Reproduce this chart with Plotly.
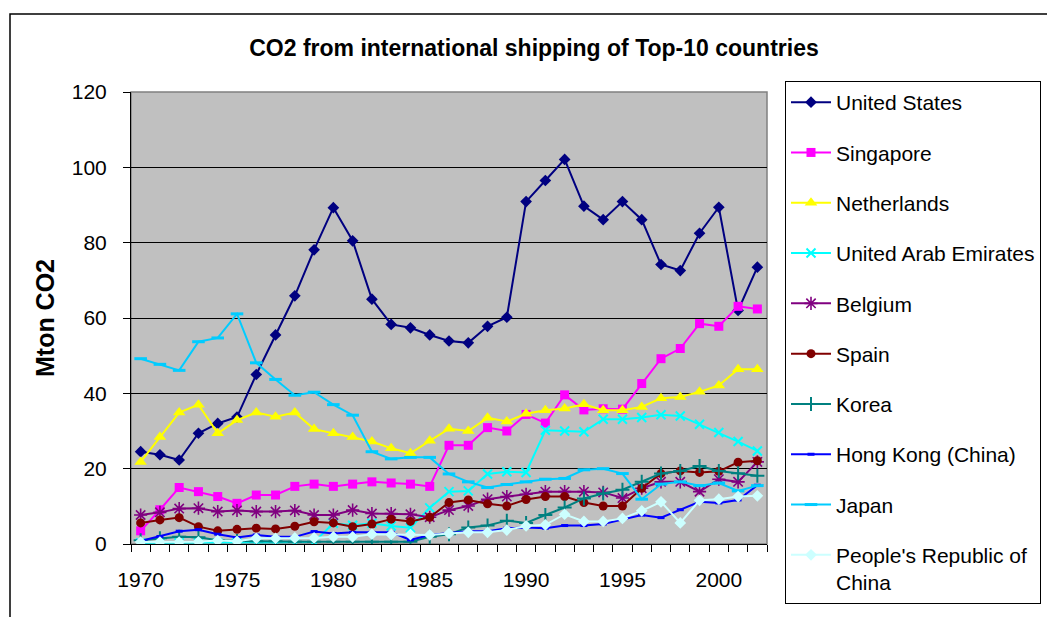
import plotly.graph_objects as go

years = list(range(1970, 2003))

united_states = [24.5, 23.7, 22.3, 29.4, 32.0, 33.7, 45.0, 55.5, 65.9, 78.1, 89.3,
                 80.5, 65.0, 58.3, 57.4, 55.5, 53.9, 53.4, 57.8, 60.2, 90.9,
                 96.5, 102.1, 89.7, 86.1, 90.9, 86.1, 74.2, 72.6, 82.5, 89.4, 62.0, 73.5]
singapore = [3.5, 9.1, 15.0, 13.9, 12.6, 10.8, 13.0, 13.0, 15.3, 15.9, 15.3,
             15.9, 16.5, 16.2, 15.9, 15.3, 26.2, 26.2, 30.9, 30.0, 34.4,
             32.1, 39.6, 35.6, 35.9, 35.8, 42.6, 49.2, 51.9, 58.5, 57.8, 63.1, 62.4]
netherlands = [21.8, 28.4, 34.9, 37.0, 29.4, 32.9, 34.9, 33.8, 34.9, 30.5, 29.4,
               28.4, 27.2, 25.4, 24.1, 27.4, 30.6, 30.0, 33.5, 32.5, 34.6,
               35.5, 36.0, 37.1, 35.5, 35.5, 36.4, 38.7, 39.0, 40.4, 42.1, 46.4, 46.4]
uae = [0.3, 0.3, 0.3, 0.3, 0.3, 0.3, 0.3, 0.3, 0.3, 0.5, 5.5,
       5.0, 5.5, 4.8, 4.3, 9.6, 13.9, 14.1, 18.6, 19.2, 19.0,
       30.2, 30.0, 29.8, 33.1, 33.1, 33.6, 34.3, 34.0, 31.8, 29.6, 27.2, 24.7]
belgium = [7.7, 8.4, 9.4, 9.5, 8.6, 8.9, 8.6, 8.6, 8.9, 7.7, 7.7,
           9.0, 8.1, 8.1, 7.9, 7.1, 9.0, 10.1, 11.9, 12.6, 13.2,
           13.9, 13.9, 13.9, 13.7, 12.2, 14.8, 16.5, 16.5, 13.9, 17.2, 16.5, 21.8]
spain = [5.6, 6.4, 7.0, 4.6, 3.5, 3.9, 4.2, 4.0, 4.7, 5.9, 5.6,
         4.6, 5.3, 6.6, 6.0, 7.1, 11.0, 11.7, 10.7, 10.1, 11.8,
         12.6, 12.6, 11.0, 10.1, 10.1, 14.8, 18.7, 19.4, 19.0, 19.3, 21.7, 22.1]
korea = [1.0, 1.5, 1.9, 1.8, 1.0, 0.8, 0.7, 0.7, 0.6, 0.6, 0.6,
         0.6, 0.6, 0.6, 0.6, 1.9, 2.6, 4.4, 4.9, 6.2, 5.6,
         7.7, 9.7, 12.1, 13.4, 14.4, 16.5, 18.7, 19.4, 20.7, 19.4, 18.8, 18.1]
hong_kong = [0.8, 2.0, 3.4, 3.8, 2.6, 1.7, 2.4, 1.9, 1.9, 3.3, 2.8,
             3.1, 3.1, 3.1, 1.1, 2.4, 2.9, 3.4, 3.4, 4.2, 4.4,
             4.2, 4.9, 4.9, 5.3, 6.6, 7.7, 7.0, 9.1, 11.2, 10.9, 11.7, 15.6]
japan = [49.2, 47.7, 46.1, 53.7, 54.7, 61.1, 48.1, 43.7, 39.5, 40.3, 37.0,
         34.2, 24.5, 22.6, 23.0, 23.0, 18.6, 16.5, 15.0, 15.8, 16.5,
         17.2, 17.4, 19.7, 20.0, 18.7, 11.9, 15.9, 16.5, 15.5, 16.2, 14.1, 15.5]
china = [0.5, 0.5, 0.5, 0.6, 0.9, 0.7, 1.5, 1.5, 1.6, 1.6, 1.9,
         1.9, 2.6, 2.5, 2.5, 2.4, 2.8, 3.1, 3.1, 3.7, 4.8,
         5.1, 7.9, 6.0, 6.0, 6.8, 8.8, 11.2, 5.6, 11.6, 11.9, 12.6, 12.8]

x_tick_years = [1970, 1975, 1980, 1985, 1990, 1995, 2000]

# name, values, colour, marker symbol, marker size, marker outline width
series = [
    ("United States", united_states, "#000080", "diamond", 9, 0),
    ("Singapore", singapore, "#FF00FF", "square", 9, 0),
    ("Netherlands", netherlands, "#FFFF00", "triangle-up", 11, 0),
    ("United Arab Emirates", uae, "#00FFFF", "x-thin-open", 9, 2),
    ("Belgium", belgium, "#800080", "asterisk-open", 11, 1.6),
    ("Spain", spain, "#800000", "circle", 9, 0),
    ("Korea", korea, "#008080", "cross-thin-open", 10, 2),
    ("Hong Kong (China)", hong_kong, "#0000FF", "line-ew-open", 5, 3),
    ("Japan", japan, "#00CCFF", "line-ew-open", 9, 3),
    ("People's Republic of<br>China", china, "#CCFFFF", "diamond", 9, 0),
]

fig = go.Figure()
for i, (name, vals, color, symbol, size, lw) in enumerate(series):
    fig.add_trace(go.Scatter(
        x=years, y=vals, name=name, mode="lines+markers",
        legendgroup=f"g{i}",
        line=dict(color=color, width=2),
        marker=dict(symbol=symbol, size=size, color=color,
                    line=dict(color=color, width=lw)),
    ))

L, R, T, B = 131, 280, 92, 73
W, H = 1047, 617
pw, ph = W - L - R, H - T - B

def px_x(p):
    return (p - L) / pw

def px_y(p):
    return (H - B - p) / ph

font_family = "Liberation Sans, Arial, sans-serif"

fig.update_layout(
    width=W, height=H,
    margin=dict(l=L, r=R, t=T, b=B, autoexpand=False),
    paper_bgcolor="white",
    plot_bgcolor="#C0C0C0",
    font=dict(family=font_family, color="black"),
    title=dict(
        text="<b>CO2 from international shipping of Top-10 countries</b>",
        font=dict(size=23, family=font_family, color="black"),
        x=534 / W, xanchor="center", xref="container",
        y=1 - 48 / H, yanchor="middle", yref="container",
    ),
    showlegend=True,
    legend=dict(
        x=px_x(785), y=1 - 81 / H, xanchor="left", yanchor="top",
        xref="paper", yref="container", maxheight=1,
        bgcolor="white", bordercolor="black", borderwidth=1,
        font=dict(size=21, family=font_family, color="black"),
        traceorder="grouped", tracegroupgap=20, valign="top",
        itemwidth=40,
    ),
    xaxis=dict(
        range=[1969.5, 2002.5],
        tickmode="array", tickvals=x_tick_years,
        ticktext=[str(y) for y in x_tick_years],
        ticks="", showgrid=False, zeroline=False,
        showline=True, linecolor="black", linewidth=1,
        tickfont=dict(size=21, family=font_family, color="black"),
        ticklabelstandoff=17,
        minor=dict(ticks="outside", tick0=1969.5, dtick=1, ticklen=7,
                   tickcolor="black", tickwidth=1, showgrid=False),
        fixedrange=True,
    ),
    yaxis=dict(
        range=[0, 120], tickmode="linear", tick0=0, dtick=20,
        ticks="outside", ticklen=7, tickcolor="black", tickwidth=1,
        showgrid=True, gridcolor="black", gridwidth=1,
        zeroline=False,
        showline=True, linecolor="black", linewidth=1,
        tickfont=dict(size=21, family=font_family, color="black"),
        ticklabelstandoff=12,
        title=dict(text="<b>Mton CO2</b>",
                   font=dict(size=25, family=font_family, color="black"),
                   standoff=10),
        fixedrange=True,
    ),
    shapes=[
        # plot-area frame
        dict(type="rect", xref="paper", yref="paper", x0=0, x1=1, y0=0, y1=1,
             line=dict(color="#808080", width=1.5), layer="below"),
        # outer chart border
        dict(type="rect", xref="paper", yref="paper",
             x0=px_x(10), x1=px_x(1100), y0=px_y(700), y1=px_y(14),
             line=dict(color="black", width=1.5)),
    ],
)

fig.write_html("out.html")
